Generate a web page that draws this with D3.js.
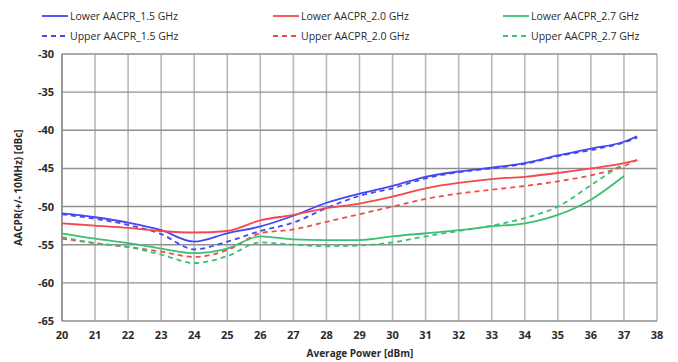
<!DOCTYPE html>
<html lang="en">
<head>
<meta charset="UTF-8">
<title>AACPR</title>
<script src="https://cdn.jsdelivr.net/npm/d3@7"></script>
<style>
    body { margin: 0; background: #fff; }
    #chart { width: 678px; height: 362px; }
    text { font-family: "Open Sans", "Liberation Sans", sans-serif; fill: #2b2b2b; }
</style>
</head>
<body>
<div id="chart"></div>
<script>
    var xTicks = d3.range(20, 39, 1);
    var yTicks = [-30, -35, -40, -45, -50, -55, -60, -65];

    var power = [20, 21, 22, 23, 24, 25, 26, 27, 28, 29, 30, 31, 32, 33, 34, 35, 36, 37, 37.4];
    var power27 = [20, 21, 22, 23, 24, 25, 26, 27, 28, 29, 30, 31, 32, 33, 34, 35, 36, 37];

    var lower15 = [-50.9, -51.4, -52.1, -53.1, -54.6, -53.5, -52.6, -51.2, -49.5, -48.3, -47.3, -46.1, -45.4, -44.9, -44.3, -43.3, -42.4, -41.5, -40.8];
    var upper15 = [-51.0, -51.6, -52.4, -53.6, -55.6, -54.6, -53.2, -52.1, -50.2, -48.6, -47.6, -46.3, -45.5, -45.0, -44.4, -43.4, -42.6, -41.6, -41.0];
    var lower20 = [-52.2, -52.5, -52.8, -53.2, -53.4, -53.2, -51.8, -51.1, -50.2, -49.6, -48.7, -47.6, -46.9, -46.4, -46.1, -45.6, -45.0, -44.3, -43.9];
    var upper20 = [-54.2, -54.8, -55.3, -55.9, -56.6, -55.7, -53.5, -53.0, -52.0, -51.0, -50.0, -49.0, -48.3, -47.8, -47.3, -46.7, -45.9, -44.7, -43.9];
    var lower27 = [-53.5, -54.2, -54.8, -55.5, -56.1, -55.5, -53.9, -54.3, -54.4, -54.4, -53.9, -53.5, -53.1, -52.6, -52.2, -51.1, -49.1, -46.0];
    var upper27 = [-54.0, -54.8, -55.3, -56.3, -57.4, -56.5, -54.7, -55.0, -55.2, -55.1, -54.7, -53.9, -53.2, -52.5, -51.5, -50.0, -47.2, -44.3];

    var series = [
        {name: "Lower AACPR_1.5 GHz", x: power, y: lower15, color: "#4646f5", dash: null, col: 0, row: 0},
        {name: "Upper AACPR_1.5 GHz", x: power, y: upper15, color: "#4646f5", dash: "5,4", col: 0, row: 1},
        {name: "Lower AACPR_2.0 GHz", x: power, y: lower20, color: "#f5484c", dash: null, col: 1, row: 0},
        {name: "Upper AACPR_2.0 GHz", x: power, y: upper20, color: "#f5484c", dash: "5,4", col: 1, row: 1},
        {name: "Lower AACPR_2.7 GHz", x: power27, y: lower27, color: "#3dbf72", dash: null, col: 2, row: 0},
        {name: "Upper AACPR_2.7 GHz", x: power27, y: upper27, color: "#3dbf72", dash: "5,4", col: 2, row: 1}
    ];

    var width = 678, height = 362;
    var margin = {left: 62, right: 21, top: 54, bottom: 41};

    var svg = d3.select("#chart").append("svg")
        .attr("width", width)
        .attr("height", height);

    var x = d3.scaleLinear().domain([20, 38]).range([margin.left, width - margin.right]);
    var y = d3.scaleLinear().domain([-65, -30]).range([height - margin.bottom, margin.top]);

    // vertical grid
    svg.append("g").selectAll("line")
        .data(xTicks).enter().append("line")
        .attr("x1", function (d) { return x(d); })
        .attr("x2", function (d) { return x(d); })
        .attr("y1", y(-30))
        .attr("y2", y(-65))
        .style("stroke", "#b9b9b9")
        .style("stroke-width", 1.6);

    // horizontal grid
    svg.append("g").selectAll("line")
        .data(yTicks).enter().append("line")
        .attr("x1", x(20))
        .attr("x2", x(38))
        .attr("y1", function (d) { return y(d); })
        .attr("y2", function (d) { return y(d); })
        .style("stroke", "#8f8f8f")
        .style("stroke-width", 1.4);

    // left axis line
    svg.append("line")
        .attr("x1", x(20)).attr("x2", x(20))
        .attr("y1", y(-30)).attr("y2", y(-65))
        .style("stroke", "#8c8c8c")
        .style("stroke-width", 1.6);

    // tick labels
    svg.append("g").selectAll("text")
        .data(xTicks).enter().append("text")
        .attr("x", function (d) { return x(d); })
        .attr("y", y(-65) + 18)
        .attr("text-anchor", "middle")
        .style("font-size", "11px")
        .style("font-weight", "bold")
        .text(function (d) { return d; });

    svg.append("g").selectAll("text")
        .data(yTicks).enter().append("text")
        .attr("x", x(20) - 8)
        .attr("y", function (d) { return y(d) + 4; })
        .attr("text-anchor", "end")
        .style("font-size", "11px")
        .style("font-weight", "bold")
        .text(function (d) { return d; });

    // axis titles
    svg.append("text")
        .attr("x", 360)
        .attr("y", 357)
        .attr("text-anchor", "middle")
        .style("font-size", "10px")
        .style("font-weight", "bold")
        .text("Average Power [dBm]");

    svg.append("text")
        .attr("transform", "translate(22," + ((y(-30) + y(-65)) / 2) + ") rotate(-90)")
        .attr("text-anchor", "middle")
        .style("font-size", "10px")
        .style("font-weight", "bold")
        .text("AACPR(+/- 10MHz) [dBc]");

    // curves
    var line = d3.line()
        .x(function (d) { return x(d[0]); })
        .y(function (d) { return y(d[1]); })
        .curve(d3.curveMonotoneX);

    svg.append("g").selectAll("path")
        .data(series).enter().append("path")
        .attr("d", function (s) {
            return line(s.x.map(function (v, i) { return [v, s.y[i]]; }));
        })
        .style("fill", "none")
        .style("stroke", function (s) { return s.color; })
        .style("stroke-width", 1.8)
        .style("stroke-dasharray", function (s) { return s.dash; });

    // legend
    var colX = [42, 273, 503];
    var rowY = [16, 36];
    var leg = svg.append("g").selectAll("g")
        .data(series).enter().append("g")
        .attr("transform", function (s) { return "translate(" + colX[s.col] + "," + rowY[s.row] + ")"; });

    leg.append("line")
        .attr("x1", 0).attr("x2", 26)
        .attr("y1", 0).attr("y2", 0)
        .style("stroke", function (s) { return s.color; })
        .style("stroke-width", 1.8)
        .style("stroke-dasharray", function (s) { return s.dash ? "5,4" : null; });

    leg.append("text")
        .attr("x", 28)
        .attr("y", 4)
        .style("font-size", "10.5px")
        .text(function (s) { return s.name; });
</script>
</body>
</html>
